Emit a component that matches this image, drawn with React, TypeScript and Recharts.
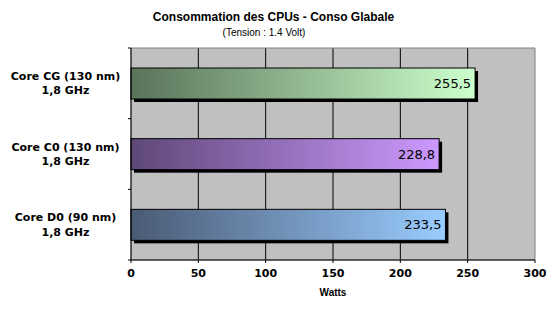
import { BarChart, Bar, XAxis, YAxis, CartesianGrid, Cell, LabelList, ReferenceArea } from 'recharts';

const cpus = ['Core CG (130 nm)', 'Core C0 (130 nm)', 'Core D0 (90 nm)'];
const freqs = ['1,8 GHz', '1,8 GHz', '1,8 GHz'];
const watts = [255.5, 228.8, 233.5];
const xTicks = [0, 50, 100, 150, 200, 250, 300];
const gradStart = ['#5a735a', '#5e4878', '#4a5a74'];
const gradEnd = ['#ccffcc', '#cc99ff', '#99ccff'];

const data = cpus.map((name, i) => ({ name, freq: freqs[i], value: watts[i] }));

const W = 554;
const H = 314;
const TOP = 48;
const BOTTOM = 54;
const halfBand = (H - TOP - BOTTOM) / data.length / 2;

const CatTick = (props: any) => {
  const { x, y, payload, index } = props;
  const row = data[index];
  return (
    <g>
      <line x1={x - 3} x2={x} y1={y - halfBand} y2={y - halfBand} stroke="#000" />
      {index === data.length - 1 && (
        <line x1={x - 3} x2={x} y1={y + halfBand} y2={y + halfBand} stroke="#000" />
      )}
      <text
        x={x - 65.5}
        y={y}
        textAnchor="middle"
        fontFamily="DejaVu Sans"
        fontWeight="bold"
        fontSize={11}
        fill="#000"
      >
        <tspan x={x - 65.5} dy={-3.5}>{payload.value}</tspan>
        <tspan x={x - 65.5} dy={14.5}>{row ? row.freq : ''}</tspan>
      </text>
    </g>
  );
};

const ShadowBar = (props: any) => {
  const { x, y, width, height, fill } = props;
  if (!width || width <= 0) return null;
  return (
    <g>
      <rect x={x + 3} y={y + 3} width={width} height={height} fill="#000" />
      <rect x={x} y={y} width={width} height={height} fill={fill} stroke="#000" strokeWidth={1} />
    </g>
  );
};

export default function App() {
  return (
    <div style={{ position: 'absolute', left: 0, top: 0, width: W, height: H, background: '#fff' }}>
      <div
        style={{
          position: 'absolute',
          left: 0,
          width: 547,
          top: 9,
          textAlign: 'center',
          fontFamily: 'Liberation Sans',
          fontWeight: 'bold',
          fontSize: 12,
          lineHeight: '16px',
        }}
      >
        Consommation des CPUs - Conso Glabale
      </div>
      <div
        style={{
          position: 'absolute',
          left: 0,
          width: 528,
          top: 26,
          textAlign: 'center',
          fontFamily: 'Liberation Sans',
          fontSize: 10,
          lineHeight: '14px',
        }}
      >
        (Tension : 1.4 Volt)
      </div>
      <BarChart
        width={W}
        height={H}
        data={data}
        layout="vertical"
        margin={{ top: TOP, right: 19, bottom: 0, left: 0 }}
        barSize={31}
      >
        <defs>
          {data.map((d, i) => (
            <linearGradient key={d.name} id={`g${i}`} x1="0" y1="0" x2="1" y2="0">
              <stop offset="0%" stopColor={gradStart[i]} />
              <stop offset="100%" stopColor={gradEnd[i]} />
            </linearGradient>
          ))}
        </defs>
        <CartesianGrid
          horizontal={false}
          vertical
          stroke="#000"
          fill="#c0c0c0"
          verticalValues={[50, 100, 150, 200, 250]}
        />
        <ReferenceArea x1={0} x2={300} fill="none" stroke="#808080" strokeWidth={1} ifOverflow="visible" />
        <XAxis
          type="number"
          domain={[0, 300]}
          ticks={xTicks}
          height={BOTTOM}
          stroke="#000"
          tickSize={3}
          tickMargin={6}
          tick={{ fontFamily: 'DejaVu Sans', fontWeight: 'bold', fontSize: 11, fill: '#000' }}
          label={{
            value: 'Watts',
            position: 'insideBottom',
            offset: 18,
            fontFamily: 'Liberation Sans',
            fontWeight: 'bold',
            fontSize: 10,
            fill: '#000',
          }}
        />
        <YAxis
          type="category"
          dataKey="name"
          width={131}
          stroke="#000"
          tickLine={false}
          tickSize={0}
          tickMargin={0}
          tick={<CatTick />}
          interval={0}
        />
        <Bar dataKey="value" isAnimationActive={false} shape={<ShadowBar />}>
          {data.map((d, i) => (
            <Cell key={d.name} fill={`url(#g${i})`} />
          ))}
          <LabelList
            dataKey="value"
            position="insideRight"
            offset={4}
            formatter={(v: any) => String(v).replace('.', ',')}
            fontFamily="DejaVu Sans"
            fontSize={13}
            fill="#000"
          />
        </Bar>
      </BarChart>
    </div>
  );
}
